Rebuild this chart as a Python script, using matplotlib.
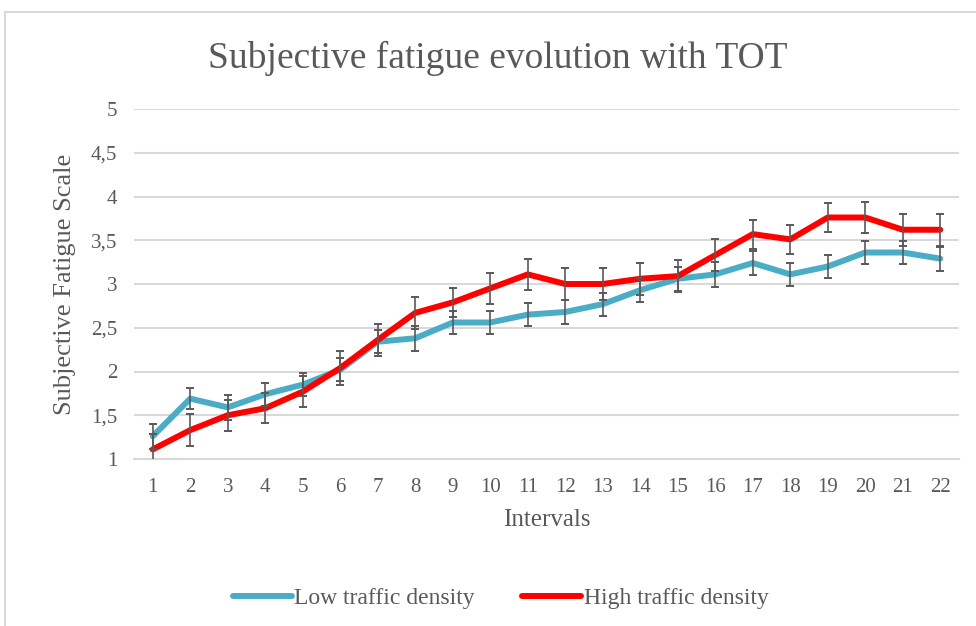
import matplotlib
matplotlib.use("Agg")
import matplotlib.pyplot as plt
from matplotlib.ticker import FuncFormatter, MultipleLocator
from matplotlib.patches import Rectangle

# data
intervals = list(range(1, 23))
low = [1.26, 1.69, 1.59, 1.74, 1.85, 2.02, 2.34, 2.38, 2.56, 2.56, 2.65,
       2.68, 2.77, 2.93, 3.06, 3.11, 3.24, 3.11, 3.20, 3.36, 3.36, 3.29]
high = [1.11, 1.33, 1.50, 1.58, 1.77, 2.04, 2.36, 2.67, 2.79, 2.95, 3.11,
        3.00, 3.00, 3.06, 3.09, 3.33, 3.57, 3.51, 3.76, 3.76, 3.62, 3.62]
low_err = [0.14, 0.12, 0.14, 0.13, 0.13, 0.13, 0.13, 0.14, 0.135, 0.135, 0.135,
           0.14, 0.13, 0.14, 0.14, 0.14, 0.14, 0.135, 0.135, 0.137, 0.137, 0.137]
high_err = [0.175, 0.18, 0.18, 0.17, 0.18, 0.19, 0.18, 0.18, 0.17, 0.18, 0.175,
            0.18, 0.18, 0.18, 0.18, 0.18, 0.165, 0.17, 0.17, 0.175, 0.18, 0.18]
labels = ["Low traffic density", "High traffic density"]

plt.rcParams['font.family'] = ['Liberation Serif', 'DejaVu Serif']
txt = '#595959'
grid = '#D9D9D9'

fig = plt.figure(figsize=(9.76, 6.26), dpi=100)
# chart frame
fig.patches.append(Rectangle((5 / 976, -0.05), 1.2, (626 - 12) / 626 + 0.05,
                             transform=fig.transFigure, fill=False,
                             edgecolor=grid, linewidth=1.5))

ax = fig.add_axes([134 / 976, (626 - 459) / 626, 825 / 976, 350 / 626])

l1, = ax.plot(intervals, low, color='#4BACC6', lw=4.3, solid_capstyle='round',
              solid_joinstyle='round', zorder=3)
l2, = ax.plot(intervals, high, color='#FF0000', lw=4.3, solid_capstyle='round',
              solid_joinstyle='round', zorder=4)
ax.errorbar(intervals, low, yerr=low_err, fmt='none', ecolor=txt,
            elinewidth=1.2, capsize=3.2, capthick=1.4, zorder=5)
ax.errorbar(intervals, high, yerr=high_err, fmt='none', ecolor=txt,
            elinewidth=1.2, capsize=3.2, capthick=1.4, zorder=5)

ax.set_xlim(0.5, 22.5)
ax.set_ylim(1, 5)
ax.yaxis.set_major_locator(MultipleLocator(0.5))
ax.yaxis.set_major_formatter(FuncFormatter(lambda v, p: ('%g' % v).replace('.', ',')))
ax.set_xticks(intervals)
ax.grid(axis='y', color=grid, lw=1.5)
ax.set_axisbelow(True)
for s in ['top', 'right', 'left']:
    ax.spines[s].set_visible(False)
ax.spines['bottom'].set_color(grid)
ax.spines['bottom'].set_linewidth(1.5)
ax.tick_params(length=0, labelsize=15, colors=txt)
ax.tick_params(axis='x', pad=14)
ax.tick_params(axis='y', pad=12)

ax.set_xlabel("Intervals", fontsize=18, color=txt, labelpad=8)
ax.set_ylabel("Subjective Fatigue Scale", fontsize=19, color=txt, labelpad=11)
fig.text(0.51, 0.907, "Subjective fatigue evolution with TOT", ha='center',
         va='center', fontsize=27, color=txt)

fig.legend([l1, l2], labels, loc='center', bbox_to_anchor=(0.513, 0.044),
           ncol=2, frameon=False, fontsize=17, labelcolor=txt,
           handlelength=2.5, handletextpad=0.1, columnspacing=2.0)

fig.savefig("out.png", dpi=100)
